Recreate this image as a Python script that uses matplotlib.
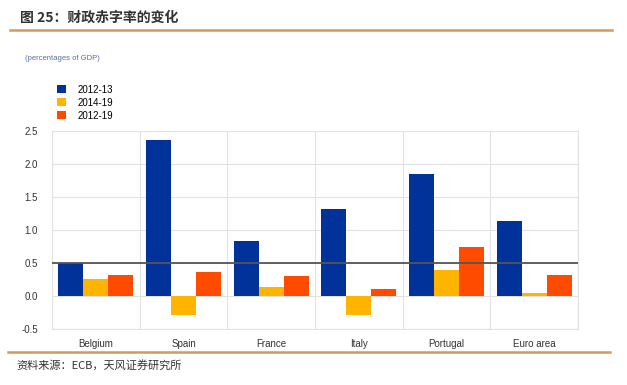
import matplotlib.pyplot as plt
import numpy as np

plt.rcParams['font.family'] = ['Liberation Sans', 'Noto Sans CJK SC', 'DejaVu Sans']

countries = ['Belgium', 'Spain', 'France', 'Italy', 'Portugal', 'Euro area']
series = ['2012-13', '2014-19', '2012-19']
v_2012_13 = [0.50, 2.37, 0.83, 1.32, 1.85, 1.13]
v_2014_19 = [0.26, -0.29, 0.13, -0.29, 0.39, 0.05]
v_2012_19 = [0.32, 0.36, 0.31, 0.11, 0.75, 0.32]
yticks = [-0.5, 0.0, 0.5, 1.0, 1.5, 2.0, 2.5]

colors = ['#003299', '#FFB400', '#FF4B00']
cjk = ['Noto Sans CJK SC', 'DejaVu Sans']

fig = plt.figure(figsize=(6.27, 3.85), dpi=100)

# header / footer
fig.text(20 / 627, 1 - 18 / 385, '图 25：财政赤字率的变化', fontsize=10, fontweight='bold',
         color='#333333', va='center', ha='left', family=cjk)
fig.add_artist(plt.Line2D([10 / 627, 612 / 627], [1 - 30 / 385] * 2, color='#D39A5A', lw=1.8))
fig.add_artist(plt.Line2D([8 / 627, 610 / 627], [1 - 352 / 385] * 2, color='#D39A5A', lw=1.8))
fig.text(16 / 627, 1 - 365 / 385, '资料来源：ECB，天风证券研究所', fontsize=8,
         color='#333333', va='center', ha='left', family=cjk)

fig.text(25 / 627, 1 - 58 / 385, '(percentages of GDP)', fontsize=5.5, color='#5A6FA0',
         va='center', ha='left')

ax = fig.add_axes([52 / 627, 1 - 329 / 385, 526 / 627, 198 / 385])

x = np.arange(len(countries))
w = 0.285
bars = []
for i, (vals, c) in enumerate(zip([v_2012_13, v_2014_19, v_2012_19], colors)):
    b = ax.bar(x + (i - 1) * w, vals, w, color=c, zorder=3)
    bars.append(b)

ax.axhline(0.5, color='#555555', lw=1.3, zorder=4)

ax.set_xlim(-0.5, len(countries) - 0.5)
ax.set_ylim(-0.5, 2.5)
ax.set_yticks(yticks)
ax.set_yticklabels([f'{t:.1f}' for t in yticks], fontsize=7, color='#333333')
ax.set_xticks(x)
ax.set_xticklabels(countries, fontsize=7, color='#333333')
ax.set_xticks(np.arange(len(countries) + 1) - 0.5, minor=True)
ax.tick_params(which='both', length=0)
ax.tick_params(axis='y', pad=10)
ax.tick_params(axis='x', pad=7)
ax.grid(axis='y', which='major', color='#E2E2E2', lw=0.8, zorder=0)
ax.grid(axis='x', which='minor', color='#E2E2E2', lw=0.8, zorder=0)
ax.grid(axis='x', which='major', visible=False)
for s in ax.spines.values():
    s.set_color('#E2E2E2')
    s.set_linewidth(0.8)

fig.legend([b[0] for b in bars], series, loc='upper left',
           bbox_to_anchor=(48 / 627, 1 - 76 / 385), frameon=False, fontsize=7,
           handlelength=0.9, handleheight=0.9, handletextpad=1.2, labelspacing=0.3)

fig.savefig('out.png', dpi=100, facecolor='white')
